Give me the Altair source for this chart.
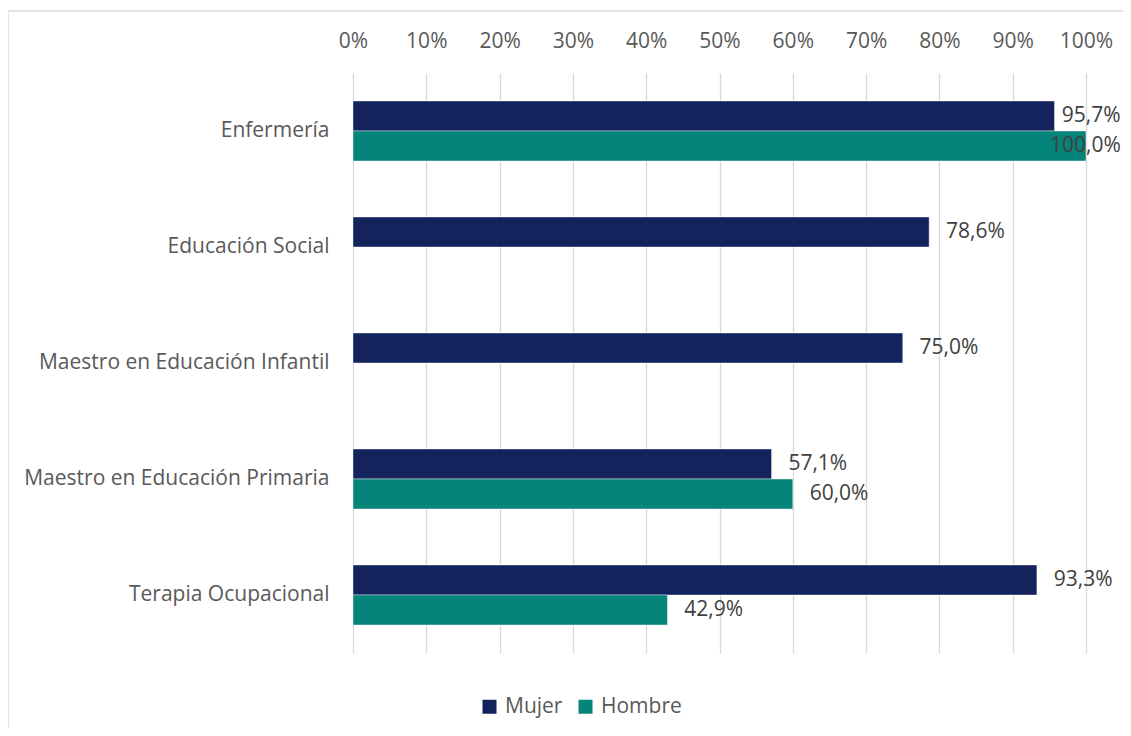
import altair as alt
import pandas as pd

categories = ["Enfermería", "Educación Social", "Maestro en Educación Infantil",
              "Maestro en Educación Primaria", "Terapia Ocupacional"]
series = ["Mujer", "Hombre"]
mujer = [95.7, 78.6, 75.0, 57.1, 93.3]
hombre = [100.0, None, None, 60.0, 42.9]
colors = ["#15235D", "#05847A"]

rows = []
for c, m, h in zip(categories, mujer, hombre):
    for s, v in (("Mujer", m), ("Hombre", h)):
        if v is not None:
            rows.append({"cat": c, "serie": s, "value": v,
                         "label": f"{v:.1f}%".replace(".", ",")})
df = pd.DataFrame(rows)

FONT = "Open Sans"
FS = 21
W, H = 733, 580

base = alt.Chart(df)

y_enc = alt.Y("cat:N", sort=categories, title=None,
              scale=alt.Scale(paddingInner=0, paddingOuter=0),
              axis=alt.Axis(domain=False, ticks=False, labelPadding=24,
                            labelFontSize=FS, labelColor="#595959", labelFont=FONT,
                            labelLimit=400))
yoff = alt.YOffset("serie:N", sort=series,
                   scale=alt.Scale(domain=series, paddingInner=0, paddingOuter=0.933))

bars = base.mark_bar(stroke="#ffffff", strokeWidth=0.7, strokeOpacity=0.6).encode(
    x=alt.X("value:Q", title=None,
            scale=alt.Scale(domain=[0, 100], nice=False),
            axis=alt.Axis(orient="top", values=list(range(0, 101, 10)),
                          labelExpr="datum.value + '%'",
                          labelFlush=False, labelOverlap=False,
                          domain=False, ticks=False, grid=True,
                          gridColor="#D9D9D9", gridWidth=1.3,
                          labelPadding=22, labelFontSize=FS,
                          labelColor="#595959", labelFont=FONT)),
    y=y_enc,
    yOffset=yoff,
    color=alt.Color("serie:N", sort=series,
                    scale=alt.Scale(domain=series, range=colors),
                    legend=alt.Legend(title=None, orient="none", direction="horizontal",
                                      legendX=126, legendY=623,
                                      symbolType="square", symbolSize=196,
                                      symbolStrokeWidth=0, labelFontSize=FS,
                                      labelColor="#595959", labelFont=FONT,
                                      columnPadding=12, labelOffset=5)),
)

texts = base.transform_calculate(
    lx="min(datum.value + 2.3, 104.7 - 1.6*length(datum.label))"
).mark_text(align="left", baseline="middle", fontSize=FS, font=FONT,
            color="#404040").encode(
    x=alt.X("lx:Q"),
    y=alt.Y("cat:N", sort=categories),
    yOffset=alt.YOffset("serie:N", sort=series),
    text="label:N",
)

border = alt.Chart(pd.DataFrame({"a": [0]})).mark_rect(
    fill=None, stroke="#D9D9D9", strokeWidth=1.3
).encode(x=alt.value(-345), x2=alt.value(900), y=alt.value(-62), y2=alt.value(800))

chart = alt.layer(border, bars, texts).properties(
    width=W, height=H,
    autosize=alt.AutoSizeParams(type="none"),
    padding={"left": 345, "top": 65, "right": 37, "bottom": 75},
).configure_view(stroke=None)

chart.save("out.html", embed_options={"renderer": "svg", "actions": False})
